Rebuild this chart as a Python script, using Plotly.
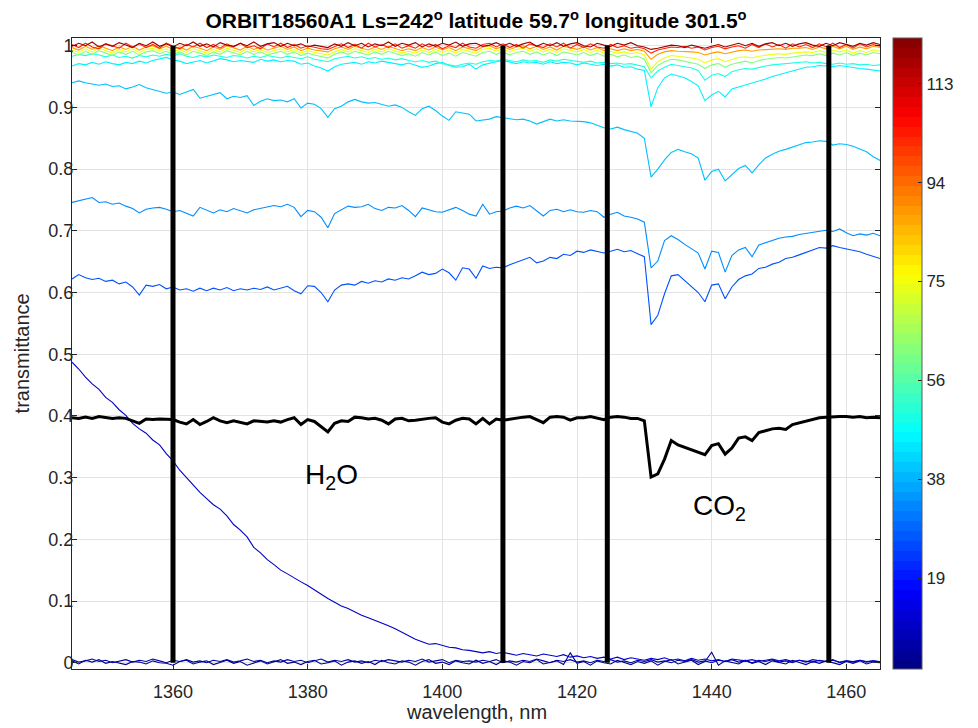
import plotly.graph_objects as go
from plotly.colors import sample_colorscale

# ---------------- data ----------------
WAVELENGTH = list(range(1345, 1466))  # nm, 1 nm sampling

# altitude (km) of each spectrum, used for its colour
ALTITUDES = [3, 6, 10, 26, 33, 39, 45, 50, 62, 74, 88, 102, 118]

T_ALT_3 = [
    0.003, -0.002, 0.004, 0.001, 0.005, -0.001, 0.002, 0.000, -0.003, 0.002,
    0.001, -0.002, 0.003, 0.000, -0.001, -0.004, 0.002, 0.004, -0.002, 0.001,
    0.003, -0.003, 0.001, 0.004, -0.001, 0.002, -0.004, 0.000, 0.003, -0.002,
    0.002, 0.005, -0.001, 0.001, -0.003, 0.002, 0.004, -0.002, 0.000, 0.003,
    -0.004, 0.001, 0.003, -0.001, 0.002, -0.003, 0.004, 0.000, -0.002, 0.003,
    0.001, -0.004, 0.002, 0.005, -0.001, 0.001, -0.003, 0.003, 0.000, -0.002,
    0.004, -0.001, 0.002, -0.003, 0.003, 0.001, -0.004, 0.002, 0.000, 0.005,
    -0.002, 0.001, 0.003, -0.003, 0.016, -0.001, 0.002, -0.004, 0.003, 0.000,
    -0.002, 0.004, 0.001, -0.003, 0.002, -0.001, 0.003, -0.004, 0.002, 0.005,
    -0.002, 0.001, 0.004, -0.003, 0.002, 0.017, -0.004, 0.003, 0.000, -0.002,
    0.004, -0.001, 0.002, -0.003, 0.003, 0.001, -0.002, 0.004, 0.000, -0.003,
    0.002, -0.001, 0.003, 0.000, -0.003, 0.002, -0.001, 0.003, -0.002, 0.001,
    0.000]

T_ALT_6 = [
    0.005, 0.001, 0.003, 0.006, 0.002, 0.004, 0.000, 0.003, 0.005, 0.001,
    0.004, 0.002, 0.006, 0.003, 0.000, 0.004, 0.002, 0.005, 0.001, 0.003,
    0.000, 0.004, 0.002, 0.005, 0.001, 0.003, 0.006, 0.002, 0.004, 0.000,
    0.003, 0.001, 0.005, 0.002, 0.004, 0.000, 0.003, 0.006, 0.001, 0.004,
    0.002, 0.005, 0.001, 0.003, 0.000, 0.004, 0.002, 0.005, 0.003, 0.001,
    0.004, 0.002, 0.006, 0.001, 0.003, 0.005, 0.000, 0.004, 0.002, 0.003,
    0.001, 0.004, 0.002, 0.005, 0.000, 0.003, 0.001, 0.004, 0.002, 0.006,
    0.003, 0.000, 0.004, 0.002, 0.005, 0.001, 0.003, 0.000, 0.004, 0.002,
    0.005, 0.001, 0.003, 0.000, 0.004, 0.002, 0.005, 0.001, 0.003, 0.000,
    0.004, 0.002, 0.005, 0.001, 0.003, 0.000, 0.004, 0.002, 0.005, 0.001,
    0.003, 0.000, 0.004, 0.002, 0.005, 0.001, 0.003, 0.000, 0.004, 0.002,
    0.001, 0.004, 0.002, 0.005, 0.000, 0.003, 0.001, 0.004, 0.002, 0.003,
    0.001]

T_ALT_10 = [
    0.487, 0.476, 0.463, 0.452, 0.443, 0.430, 0.422, 0.410, 0.401, 0.388,
    0.379, 0.372, 0.361, 0.353, 0.339, 0.327, 0.312, 0.300, 0.289, 0.276,
    0.266, 0.256, 0.249, 0.238, 0.224, 0.215, 0.204, 0.187, 0.178, 0.167,
    0.159, 0.150, 0.144, 0.137, 0.131, 0.125, 0.118, 0.110, 0.104, 0.098,
    0.092, 0.088, 0.082, 0.077, 0.073, 0.069, 0.065, 0.060, 0.055, 0.049,
    0.043, 0.038, 0.034, 0.030, 0.031, 0.028, 0.025, 0.024, 0.021, 0.020,
    0.018, 0.016, 0.018, 0.015, 0.017, 0.014, 0.012, 0.015, 0.013, 0.011,
    0.014, 0.012, 0.010, 0.013, 0.009, 0.011, 0.008, 0.010, 0.007, 0.009,
    0.006, 0.009, 0.005, 0.008, 0.006, 0.004, 0.007, 0.005, 0.008, 0.004,
    0.006, 0.003, 0.007, 0.004, 0.006, 0.003, 0.005, 0.002, 0.006, 0.004,
    0.003, 0.005, 0.002, 0.004, 0.006, 0.003, 0.005, 0.002, 0.004, 0.001,
    0.005, 0.003, 0.002, 0.004, 0.001, 0.003, 0.002, 0.004, 0.001, 0.003,
    0.002]

T_ALT_26 = [
    0.622, 0.629, 0.624, 0.621, 0.623, 0.618, 0.620, 0.614, 0.617, 0.609,
    0.596, 0.612, 0.610, 0.613, 0.606, 0.609, 0.604, 0.606, 0.602, 0.607,
    0.603, 0.607, 0.604, 0.608, 0.603, 0.606, 0.604, 0.607, 0.605, 0.609,
    0.604, 0.607, 0.610, 0.603, 0.598, 0.611, 0.610, 0.600, 0.585, 0.604,
    0.612, 0.614, 0.612, 0.618, 0.615, 0.619, 0.617, 0.622, 0.620, 0.624,
    0.622, 0.627, 0.633, 0.629, 0.631, 0.638, 0.632, 0.620, 0.640, 0.638,
    0.623, 0.643, 0.639, 0.641, 0.640, 0.645, 0.649, 0.652, 0.657, 0.648,
    0.651, 0.657, 0.655, 0.662, 0.660, 0.667, 0.665, 0.669, 0.666, 0.664,
    0.667, 0.670, 0.666, 0.668, 0.663, 0.658, 0.548, 0.563, 0.598, 0.627,
    0.629, 0.619, 0.610, 0.600, 0.585, 0.612, 0.614, 0.590, 0.609, 0.621,
    0.627, 0.630, 0.639, 0.641, 0.646, 0.649, 0.655, 0.657, 0.661, 0.665,
    0.670, 0.673, 0.672, 0.676, 0.673, 0.671, 0.668, 0.666, 0.662, 0.659,
    0.655]

T_ALT_33 = [
    0.746, 0.749, 0.752, 0.754, 0.746, 0.747, 0.743, 0.745, 0.740, 0.736,
    0.729, 0.735, 0.737, 0.738, 0.735, 0.731, 0.733, 0.728, 0.724, 0.738,
    0.733, 0.729, 0.734, 0.731, 0.736, 0.733, 0.729, 0.734, 0.736, 0.738,
    0.741, 0.739, 0.743, 0.738, 0.723, 0.733, 0.731, 0.722, 0.705, 0.728,
    0.734, 0.740, 0.738, 0.739, 0.743, 0.736, 0.733, 0.738, 0.737, 0.741,
    0.733, 0.723, 0.737, 0.734, 0.731, 0.730, 0.734, 0.738, 0.733, 0.727,
    0.724, 0.743, 0.727, 0.731, 0.732, 0.737, 0.740, 0.737, 0.741, 0.732,
    0.724, 0.733, 0.735, 0.731, 0.734, 0.731, 0.730, 0.733, 0.731, 0.722,
    0.727, 0.730, 0.724, 0.722, 0.719, 0.714, 0.640, 0.651, 0.684, 0.692,
    0.686, 0.678, 0.671, 0.664, 0.638, 0.667, 0.665, 0.633, 0.660, 0.669,
    0.673, 0.658, 0.677, 0.681, 0.685, 0.688, 0.690, 0.691, 0.694, 0.696,
    0.698, 0.700, 0.701, 0.699, 0.703, 0.697, 0.692, 0.695, 0.693, 0.696,
    0.692]

T_ALT_39 = [
    0.940, 0.943, 0.940, 0.938, 0.936, 0.938, 0.934, 0.935, 0.930, 0.933,
    0.937, 0.932, 0.929, 0.927, 0.923, 0.925, 0.921, 0.925, 0.929, 0.915,
    0.918, 0.922, 0.924, 0.914, 0.918, 0.916, 0.919, 0.903, 0.910, 0.914,
    0.911, 0.912, 0.909, 0.914, 0.899, 0.907, 0.905, 0.898, 0.884, 0.898,
    0.902, 0.909, 0.913, 0.909, 0.907, 0.908, 0.905, 0.902, 0.904, 0.900,
    0.893, 0.887, 0.898, 0.902, 0.895, 0.886, 0.879, 0.893, 0.891, 0.889,
    0.878, 0.879, 0.881, 0.885, 0.883, 0.882, 0.880, 0.881, 0.878, 0.873,
    0.877, 0.881, 0.878, 0.880, 0.878, 0.878, 0.877, 0.875, 0.871, 0.867,
    0.865, 0.868, 0.864, 0.861, 0.858, 0.850, 0.787, 0.800, 0.815, 0.827,
    0.832, 0.828, 0.825, 0.818, 0.782, 0.796, 0.800, 0.781, 0.791, 0.801,
    0.806, 0.794, 0.807, 0.818, 0.824, 0.829, 0.832, 0.836, 0.839, 0.843,
    0.844, 0.846, 0.845, 0.839, 0.841, 0.840, 0.837, 0.833, 0.828, 0.820,
    0.814]

T_ALT_45 = [
    0.967, 0.971, 0.969, 0.973, 0.970, 0.974, 0.971, 0.969, 0.973, 0.971,
    0.975, 0.972, 0.976, 0.978, 0.981, 0.977, 0.975, 0.971, 0.973, 0.976,
    0.972, 0.975, 0.979, 0.977, 0.974, 0.976, 0.975, 0.973, 0.978, 0.975,
    0.977, 0.974, 0.976, 0.975, 0.970, 0.972, 0.967, 0.964, 0.959, 0.966,
    0.970, 0.972, 0.973, 0.970, 0.974, 0.972, 0.975, 0.973, 0.971, 0.969,
    0.972, 0.968, 0.965, 0.967, 0.971, 0.973, 0.968, 0.965, 0.966, 0.970,
    0.962, 0.969, 0.972, 0.974, 0.976, 0.973, 0.971, 0.974, 0.972, 0.973,
    0.970, 0.974, 0.971, 0.973, 0.972, 0.969, 0.972, 0.970, 0.968, 0.970,
    0.967, 0.969, 0.965, 0.966, 0.962, 0.960, 0.901, 0.932, 0.948, 0.954,
    0.951, 0.948, 0.942, 0.935, 0.911, 0.920, 0.926, 0.917, 0.930, 0.933,
    0.936, 0.939, 0.943, 0.946, 0.950, 0.953, 0.957, 0.960, 0.963, 0.965,
    0.966, 0.968, 0.967, 0.966, 0.968, 0.966, 0.964, 0.963, 0.962, 0.961,
    0.959]

T_ALT_50 = [
    0.983, 0.986, 0.984, 0.987, 0.985, 0.982, 0.985, 0.981, 0.983, 0.980,
    0.984, 0.982, 0.985, 0.983, 0.986, 0.984, 0.987, 0.983, 0.981, 0.984,
    0.982, 0.985, 0.983, 0.981, 0.984, 0.983, 0.980, 0.983, 0.981, 0.984,
    0.982, 0.980, 0.983, 0.981, 0.979, 0.982, 0.978, 0.976, 0.974, 0.979,
    0.981, 0.983, 0.980, 0.982, 0.979, 0.981, 0.978, 0.980, 0.977, 0.979,
    0.976, 0.974, 0.976, 0.973, 0.975, 0.971, 0.969, 0.967, 0.970, 0.972,
    0.970, 0.974, 0.976, 0.975, 0.978, 0.976, 0.974, 0.977, 0.975, 0.976,
    0.973, 0.977, 0.975, 0.978, 0.976, 0.975, 0.973, 0.975, 0.972, 0.973,
    0.971, 0.972, 0.970, 0.971, 0.969, 0.966, 0.948, 0.959, 0.965, 0.970,
    0.968, 0.966, 0.964, 0.960, 0.944, 0.952, 0.955, 0.950, 0.958, 0.961,
    0.963, 0.962, 0.965, 0.967, 0.969, 0.970, 0.971, 0.972, 0.973, 0.974,
    0.972, 0.973, 0.971, 0.970, 0.972, 0.970, 0.971, 0.969, 0.970, 0.968,
    0.969]

T_ALT_62 = [
    0.989, 0.985, 0.991, 0.986, 0.992, 0.988, 0.984, 0.990, 0.986, 0.991,
    0.985, 0.990, 0.992, 0.987, 0.991, 0.986, 0.990, 0.985, 0.991, 0.988,
    0.984, 0.990, 0.986, 0.992, 0.988, 0.985, 0.991, 0.986, 0.990, 0.985,
    0.988, 0.991, 0.986, 0.990, 0.984, 0.988, 0.985, 0.983, 0.980, 0.986,
    0.990, 0.986, 0.991, 0.988, 0.985, 0.990, 0.986, 0.991, 0.988, 0.984,
    0.987, 0.983, 0.989, 0.985, 0.990, 0.984, 0.988, 0.983, 0.989, 0.986,
    0.983, 0.989, 0.991, 0.986, 0.990, 0.985, 0.989, 0.991, 0.986, 0.990,
    0.985, 0.989, 0.984, 0.990, 0.987, 0.985, 0.989, 0.984, 0.988, 0.983,
    0.986, 0.982, 0.985, 0.981, 0.983, 0.978, 0.956, 0.968, 0.974, 0.978,
    0.977, 0.975, 0.973, 0.970, 0.963, 0.969, 0.971, 0.965, 0.970, 0.973,
    0.975, 0.972, 0.976, 0.978, 0.979, 0.981, 0.980, 0.982, 0.983, 0.985,
    0.984, 0.987, 0.984, 0.988, 0.985, 0.989, 0.984, 0.988, 0.985, 0.989,
    0.987]

T_ALT_74 = [
    0.993, 0.989, 0.995, 0.990, 0.996, 0.992, 0.988, 0.994, 0.990, 0.995,
    0.989, 0.994, 0.996, 0.991, 0.995, 0.990, 0.994, 0.989, 0.995, 0.992,
    0.988, 0.994, 0.990, 0.996, 0.992, 0.989, 0.995, 0.990, 0.994, 0.989,
    0.992, 0.995, 0.990, 0.994, 0.988, 0.992, 0.989, 0.987, 0.985, 0.990,
    0.994, 0.990, 0.995, 0.992, 0.989, 0.994, 0.990, 0.995, 0.992, 0.988,
    0.991, 0.988, 0.993, 0.989, 0.994, 0.989, 0.993, 0.988, 0.994, 0.991,
    0.988, 0.994, 0.996, 0.991, 0.995, 0.990, 0.994, 0.996, 0.991, 0.995,
    0.990, 0.994, 0.989, 0.995, 0.992, 0.990, 0.994, 0.989, 0.993, 0.988,
    0.991, 0.988, 0.990, 0.987, 0.989, 0.985, 0.962, 0.974, 0.980, 0.984,
    0.983, 0.982, 0.980, 0.978, 0.972, 0.977, 0.979, 0.974, 0.978, 0.981,
    0.982, 0.980, 0.983, 0.985, 0.986, 0.987, 0.986, 0.988, 0.989, 0.990,
    0.989, 0.992, 0.989, 0.993, 0.990, 0.993, 0.988, 0.992, 0.989, 0.993,
    0.991]

T_ALT_88 = [
    0.997, 0.993, 0.999, 0.994, 1.000, 0.996, 0.992, 0.998, 0.994, 0.999,
    0.993, 0.998, 1.000, 0.995, 0.999, 0.994, 0.998, 0.993, 0.999, 0.996,
    0.992, 0.998, 0.994, 1.000, 0.996, 0.993, 0.999, 0.994, 0.998, 0.993,
    0.996, 0.999, 0.994, 0.998, 0.992, 0.996, 0.993, 0.992, 0.990, 0.995,
    0.998, 0.994, 0.999, 0.996, 0.993, 0.998, 0.994, 0.999, 0.996, 0.992,
    0.995, 0.992, 0.997, 0.993, 0.998, 0.993, 0.997, 0.992, 0.998, 0.995,
    0.992, 0.998, 1.000, 0.995, 0.999, 0.994, 0.998, 1.000, 0.995, 0.999,
    0.994, 0.998, 0.993, 0.999, 0.996, 0.994, 0.998, 0.993, 0.997, 0.992,
    0.995, 0.992, 0.995, 0.992, 0.994, 0.991, 0.978, 0.986, 0.990, 0.992,
    0.991, 0.991, 0.990, 0.989, 0.985, 0.988, 0.990, 0.987, 0.990, 0.992,
    0.993, 0.991, 0.993, 0.994, 0.995, 0.995, 0.994, 0.996, 0.996, 0.997,
    0.994, 0.998, 0.995, 0.999, 0.995, 0.999, 0.994, 0.998, 0.995, 0.999,
    0.997]

T_ALT_102 = [
    1.002, 0.997, 1.004, 0.998, 0.995, 1.003, 1.000, 0.996, 1.004, 0.998,
    1.003, 0.997, 1.002, 0.996, 1.004, 1.000, 0.995, 1.002, 0.998, 1.004,
    0.997, 1.002, 0.996, 1.003, 0.998, 1.004, 0.997, 1.000, 0.995, 1.003,
    0.998, 1.004, 0.997, 1.002, 0.996, 1.000, 0.997, 0.995, 0.994, 0.998,
    1.003, 0.997, 1.002, 0.996, 1.004, 0.998, 1.002, 0.997, 1.003, 0.996,
    1.000, 0.996, 1.003, 0.998, 1.002, 0.995, 1.000, 0.997, 1.004, 0.998,
    0.996, 1.002, 1.004, 0.998, 1.003, 0.997, 1.002, 0.996, 1.003, 1.000,
    0.997, 1.003, 0.998, 1.004, 0.996, 1.002, 0.997, 1.003, 0.998, 0.996,
    1.002, 0.997, 1.000, 0.996, 0.998, 0.995, 0.988, 0.993, 0.996, 0.998,
    0.997, 0.999, 0.996, 0.998, 0.993, 0.997, 0.999, 0.995, 0.998, 1.000,
    0.996, 1.002, 0.997, 1.003, 0.998, 1.002, 0.996, 1.003, 0.998, 1.002,
    0.997, 1.003, 0.998, 1.004, 0.997, 1.002, 0.996, 1.003, 0.998, 1.002,
    0.999]

T_ALT_118 = [
    0.999, 1.004, 1.000, 1.006, 0.998, 1.003, 0.999, 1.005, 1.001, 0.997,
    1.004, 1.000, 1.006, 0.999, 1.003, 0.998, 1.004, 1.000, 1.006, 0.999,
    1.003, 0.998, 1.005, 1.001, 0.999, 1.004, 1.000, 1.006, 0.999, 1.003,
    1.005, 0.999, 1.004, 1.000, 1.003, 0.998, 1.001, 0.999, 0.997, 1.003,
    0.999, 1.005, 1.000, 1.004, 0.998, 1.003, 1.000, 1.006, 0.999, 1.004,
    1.001, 1.005, 0.998, 1.003, 0.999, 1.004, 1.001, 1.006, 0.999, 1.003,
    1.004, 0.999, 1.001, 1.005, 1.000, 1.004, 0.999, 1.003, 1.006, 0.999,
    1.004, 1.000, 1.005, 0.999, 1.003, 1.005, 1.000, 0.998, 1.004, 1.001,
    0.999, 1.004, 1.001, 1.005, 1.000, 0.998, 0.994, 0.996, 0.999, 1.001,
    1.000, 0.997, 1.001, 0.998, 0.996, 0.999, 1.002, 0.998, 1.001, 1.004,
    1.000, 1.004, 0.999, 1.003, 1.005, 1.000, 1.004, 0.999, 1.003, 1.005,
    1.001, 0.999, 1.004, 1.000, 1.005, 1.002, 0.999, 1.004, 1.001, 1.005,
    1.002]

SPECTRA = [T_ALT_3, T_ALT_6, T_ALT_10, T_ALT_26, T_ALT_33, T_ALT_39, T_ALT_45,
           T_ALT_50, T_ALT_62, T_ALT_74, T_ALT_88, T_ALT_102, T_ALT_118]

# thick black reference spectrum
REFERENCE = [
    0.397, 0.396, 0.398, 0.396, 0.399, 0.397, 0.396, 0.397, 0.396, 0.392,
    0.388, 0.395, 0.394, 0.395, 0.394, 0.394, 0.390, 0.387, 0.394, 0.386,
    0.391, 0.397, 0.392, 0.389, 0.392, 0.390, 0.387, 0.392, 0.391, 0.390,
    0.392, 0.390, 0.394, 0.397, 0.386, 0.394, 0.391, 0.383, 0.374, 0.388,
    0.392, 0.391, 0.398, 0.397, 0.395, 0.396, 0.393, 0.387, 0.395, 0.396,
    0.392, 0.393, 0.395, 0.396, 0.397, 0.390, 0.387, 0.393, 0.396, 0.395,
    0.387, 0.396, 0.387, 0.395, 0.393, 0.395, 0.397, 0.398, 0.399, 0.394,
    0.389, 0.398, 0.399, 0.398, 0.393, 0.397, 0.397, 0.399, 0.396, 0.394,
    0.398, 0.399, 0.398, 0.396, 0.396, 0.392, 0.301, 0.306, 0.330, 0.360,
    0.353, 0.349, 0.346, 0.342, 0.337, 0.352, 0.355, 0.338, 0.348, 0.364,
    0.366, 0.360, 0.373, 0.376, 0.379, 0.380, 0.378, 0.386, 0.389, 0.391,
    0.394, 0.397, 0.398, 0.399, 0.399, 0.399, 0.398, 0.399, 0.397, 0.398,
    0.397]

# vertical black marker lines (nm) and their vertical extent
MARKER_LINES_NM = [1360.0, 1409.0, 1424.5, 1457.4]
MARKER_LINE_SPAN = [0.0, 1.0]

# band labels
BAND_LABELS = ["H<sub>2</sub>O", "CO<sub>2</sub>"]
BAND_LABEL_X = [1383.6, 1441.2]
BAND_LABEL_Y = [0.302, 0.252]

ALT_RANGE = [1.5, 121.5]
CBAR_TICKS = [18.8, 37.6, 56.4, 75.2, 94.0, 112.8]
CBAR_TICK_TEXT = ["19", "38", "56", "75", "94", "113"]
X_TICKS = [1360, 1380, 1400, 1420, 1440, 1460]
Y_TICKS = [0, 0.1, 0.2, 0.3, 0.4, 0.5, 0.6, 0.7, 0.8, 0.9, 1.0]
Y_TICK_TEXT = ["0", "0.1", "0.2", "0.3", "0.4", "0.5", "0.6", "0.7", "0.8", "0.9", "1"]

TITLE = ("ORBIT18560A1 Ls=242<sup>o</sup> latitude 59.7<sup>o</sup> "
         "longitude 301.5<sup>o</sup>")

# ---------------- style ----------------
FONT = "Liberation Sans, Arial, sans-serif"
TXT = "#262626"
JET = [[0.0, "rgb(0,0,128)"], [0.125, "rgb(0,0,255)"], [0.375, "rgb(0,255,255)"],
       [0.625, "rgb(255,255,0)"], [0.875, "rgb(255,0,0)"], [1.0, "rgb(128,0,0)"]]
# stepped 64-colour jet like MATLAB
JET64 = []
for i in range(64):
    c = sample_colorscale(JET, (i + 0.5) / 64)[0]
    JET64.append([i / 64, c])
    JET64.append([(i + 1) / 64, c])


def alt_color(a):
    f = (a - ALT_RANGE[0]) / (ALT_RANGE[1] - ALT_RANGE[0])
    return sample_colorscale(JET, min(max(f, 0), 1))[0]


# the page body has an 8 px margin; the figure is shrunk so it ends at 978x728
FIG_W, FIG_H = 970, 720

fig = go.Figure()

for alt, spec in zip(ALTITUDES, SPECTRA):
    fig.add_trace(go.Scatter(x=WAVELENGTH, y=spec, mode="lines",
                             line=dict(color=alt_color(alt), width=1.1),
                             showlegend=False, hoverinfo="skip"))

fig.add_trace(go.Scatter(x=WAVELENGTH, y=REFERENCE, mode="lines",
                         line=dict(color="black", width=3),
                         showlegend=False, hoverinfo="skip"))

for xv in MARKER_LINES_NM:
    fig.add_trace(go.Scatter(x=[xv, xv], y=MARKER_LINE_SPAN, mode="lines",
                             line=dict(color="black", width=5),
                             showlegend=False, hoverinfo="skip"))

# colour bar carrier (points far outside visible range)
fig.add_trace(go.Scatter(
    x=[WAVELENGTH[0], WAVELENGTH[0]], y=[-5, -5], mode="markers",
    marker=dict(color=ALT_RANGE, colorscale=JET64, cmin=ALT_RANGE[0], cmax=ALT_RANGE[1],
                size=1, showscale=True,
                colorbar=dict(x=1.0161, xanchor="left", xref="paper",
                              y=0.5, yanchor="middle", len=1.0, lenmode="fraction",
                              thickness=29, thicknessmode="pixels",
                              outlinewidth=1, outlinecolor="#5a5a5a",
                              tickvals=CBAR_TICKS, ticktext=CBAR_TICK_TEXT,
                              ticks="inside", ticklen=4, tickcolor=TXT,
                              tickfont=dict(family=FONT, size=17, color=TXT),
                              xpad=0, ypad=0)),
    showlegend=False, hoverinfo="skip"))

for txt, xv, yv in zip(BAND_LABELS, BAND_LABEL_X, BAND_LABEL_Y):
    fig.add_annotation(x=xv, y=yv, text=txt, showarrow=False,
                       font=dict(family=FONT, size=28, color="black"),
                       xanchor="center", yanchor="middle")

axis_common = dict(showline=True, linecolor=TXT, linewidth=1, mirror="ticks",
                   ticks="inside", ticklen=5, tickcolor=TXT,
                   showgrid=True, gridcolor="#e3e3e3", gridwidth=1, zeroline=False,
                   tickfont=dict(family=FONT, size=18, color=TXT))

fig.update_layout(
    width=FIG_W, height=FIG_H,
    margin=dict(l=64, r=98, t=30, b=59),
    paper_bgcolor="white", plot_bgcolor="white",
    title=dict(text="<b>" + TITLE + "</b>", x=0.5, xref="paper", xanchor="center",
               y=1 - 13 / FIG_H, yref="container", yanchor="middle",
               font=dict(family=FONT, size=21, color="black")),
    xaxis=dict(range=[1345, 1465], tickvals=X_TICKS, ticklabelstandoff=6,
               **axis_common),
    yaxis=dict(range=[-0.0102, 1.0125], tickvals=Y_TICKS, ticktext=Y_TICK_TEXT,
               ticklabelstandoff=-6, **axis_common),
)

fig.add_annotation(x=-0.062, y=0.5, xref="paper", yref="paper", text="transmittance",
                   textangle=-90, showarrow=False, xanchor="center", yanchor="middle",
                   font=dict(family=FONT, size=20, color=TXT))
fig.add_annotation(x=0.5, y=-0.068, xref="paper", yref="paper", text="wavelength, nm",
                   showarrow=False, xanchor="center", yanchor="middle",
                   font=dict(family=FONT, size=20, color=TXT))

fig.write_html("out.html")
